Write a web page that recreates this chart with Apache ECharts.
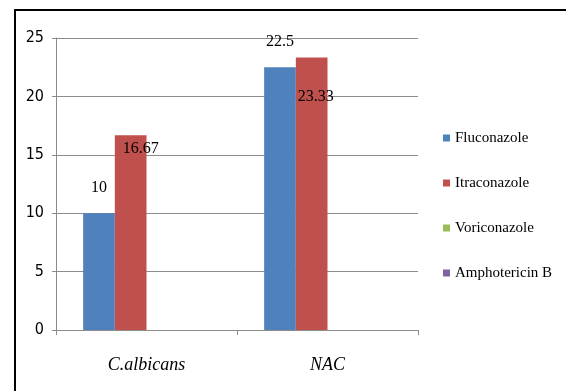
<!DOCTYPE html>
<html>
<head>
<meta charset="utf-8">
<script src="https://cdn.jsdelivr.net/npm/echarts@6/dist/echarts.min.js"></script>
<style>
html,body{margin:0;padding:0;background:#fff;}
#main{width:566px;height:391px;}
</style>
</head>
<body>
<div id="main"></div>
<script>
const categories = ['C.albicans', 'NAC'];
const seriesNames = ['Fluconazole', 'Itraconazole', 'Voriconazole', 'Amphotericin B'];
const fluconazole = [10, 22.5];
const itraconazole = [16.67, 23.33];
const voriconazole = [0, 0];
const amphotericinB = [0, 0];
const yTicks = [0, 5, 10, 15, 20, 25];

const colors = ['#4F81BD', '#C0504D', '#9BBB59', '#8064A2'];
const serif = "'Liberation Serif','Times New Roman',serif";

const labelBase = {show: true, color: '#000', fontFamily: serif, fontSize: 16};
// label placement per bar, as in the reference
const flucLabels = [
  {position: 'top', distance: 17},
  {position: 'top', distance: 17}
];
const itraLabels = [
  {position: 'insideTop', distance: 6, offset: [10, 0]},
  {position: 'insideTop', distance: 6, offset: [4, 25]}
];

function mk(values, labels) {
  return values.map((v, i) => labels ? {value: v, label: Object.assign({}, labelBase, labels[i])} : {value: v});
}

const chart = echarts.init(document.getElementById('main'));
chart.setOption({
  animation: false,
  backgroundColor: '#fff',
  color: colors,
  grid: {left: 56, right: 148, top: 38, bottom: 61, containLabel: false},
  legend: {
    orient: 'vertical',
    left: 438,
    top: 125,
    itemWidth: 7,
    itemHeight: 7,
    itemGap: 29,
    icon: 'rect',
    data: seriesNames,
    textStyle: {fontFamily: serif, fontSize: 15, color: '#000', lineHeight: 16}
  },
  xAxis: {
    type: 'category',
    data: categories,
    axisLine: {show: true, lineStyle: {color: '#8c8c8c', width: 1}},
    axisTick: {show: true, interval: 0, length: 5, lineStyle: {color: '#8c8c8c'}},
    axisLabel: {fontFamily: serif, fontStyle: 'italic', fontSize: 18, color: '#000', margin: 26}
  },
  yAxis: {
    type: 'value',
    min: yTicks[0],
    max: yTicks[yTicks.length - 1],
    interval: 5,
    axisLine: {show: true, lineStyle: {color: '#8c8c8c', width: 1}},
    axisTick: {show: true, length: 4, lineStyle: {color: '#8c8c8c'}},
    splitLine: {show: true, lineStyle: {color: '#8c8c8c', width: 1}},
    axisLabel: {fontFamily: "'Liberation Sans Narrow','DejaVu Sans Condensed','Liberation Sans',sans-serif", fontSize: 16, color: '#000', margin: 12}
  },
  series: [
    {name: seriesNames[0], type: 'bar', data: mk(fluconazole, flucLabels), barGap: '0%', barCategoryGap: '30%'},
    {name: seriesNames[1], type: 'bar', data: mk(itraconazole, itraLabels), barGap: '0%', barCategoryGap: '30%'},
    {name: seriesNames[2], type: 'bar', data: mk(voriconazole), barGap: '0%', barCategoryGap: '30%'},
    {name: seriesNames[3], type: 'bar', data: mk(amphotericinB), barGap: '0%', barCategoryGap: '30%'}
  ],
  graphic: [{
    type: 'rect',
    shape: {x: 15, y: 10, width: 600, height: 420},
    style: {fill: 'none', stroke: '#000', lineWidth: 2},
    silent: true
  }]
});
</script>
</body>
</html>
